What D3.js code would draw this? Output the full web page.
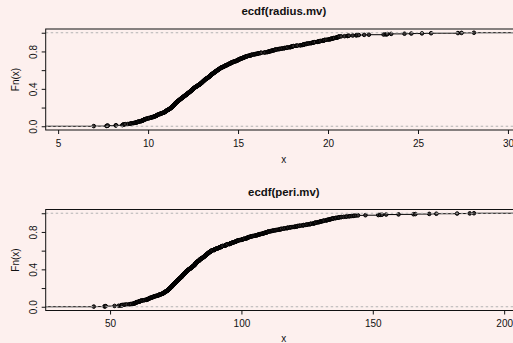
<!DOCTYPE html>
<html>
<head>
<meta charset="utf-8">
<script src="https://cdn.jsdelivr.net/npm/d3@7"></script>
<style>
  html, body { margin: 0; padding: 0; background: #fdf0ee; overflow: hidden; }
  svg { display: block; }
  text { font-family: "Liberation Sans", Arial, Helvetica, sans-serif; fill: #111; }
</style>
</head>
<body>
<svg id="chart" width="513" height="343"></svg>
<script>
// Sample values (sorted) for the two variables
const radiusValues = [
  6.98, 7.69, 7.73, 7.76,
  8.20, 8.22, 8.57, 8.60, 8.60, 8.62, 8.67, 8.73, 8.73, 8.88,
  9.00, 9.03, 9.04, 9.10, 9.17, 9.22, 9.27, 9.30, 9.33, 9.37, 9.40, 9.42, 9.44, 9.47,
  9.50, 9.56, 9.60, 9.61, 9.65, 9.67, 9.68, 9.72, 9.73, 9.74, 9.76, 9.78, 9.79, 9.80, 9.85, 9.88, 9.90, 9.90, 9.95, 9.98,
  10.03, 10.05, 10.08, 10.16, 10.17, 10.18, 10.20, 10.26, 10.29, 10.32, 10.33, 10.36, 10.38, 10.41, 10.44, 10.46, 10.47, 10.48, 10.49, 10.49,
  10.51, 10.54, 10.57, 10.57, 10.60, 10.65, 10.66, 10.67, 10.71, 10.72, 10.75, 10.77, 10.80, 10.82, 10.86, 10.88, 10.90, 10.91, 10.93, 10.94, 10.95, 10.96, 10.97, 10.98, 10.99, 10.99,
  11.02, 11.04, 11.06, 11.08, 11.08, 11.11, 11.13, 11.14, 11.15, 11.16, 11.18, 11.20, 11.20, 11.22, 11.24, 11.25, 11.26, 11.27, 11.28, 11.29, 11.30, 11.31, 11.32, 11.33, 11.34, 11.34, 11.36, 11.37, 11.38, 11.39, 11.40, 11.41, 11.42, 11.43, 11.43, 11.44, 11.45, 11.46, 11.47, 11.47, 11.48, 11.49, 11.49,
  11.50, 11.51, 11.52, 11.53, 11.54, 11.55, 11.56, 11.57, 11.57, 11.58, 11.60, 11.61, 11.62, 11.63, 11.64, 11.66, 11.67, 11.68, 11.69, 11.70, 11.71, 11.72, 11.74, 11.75, 11.76, 11.76, 11.78, 11.79, 11.80, 11.81, 11.82, 11.84, 11.85, 11.86, 11.87, 11.88, 11.89, 11.90, 11.92, 11.93, 11.94, 11.95, 11.96, 11.98, 11.99,
  12.00, 12.02, 12.03, 12.04, 12.05, 12.06, 12.07, 12.08, 12.10, 12.11, 12.13, 12.14, 12.16, 12.17, 12.18, 12.19, 12.20, 12.21, 12.22, 12.23, 12.25, 12.26, 12.27, 12.28, 12.30, 12.31, 12.32, 12.34, 12.35, 12.36, 12.37, 12.38, 12.39, 12.40, 12.42, 12.43, 12.44, 12.45, 12.46, 12.46, 12.47, 12.48, 12.49, 12.49, 12.34, 12.18,
  12.51, 12.52, 12.53, 12.54, 12.55, 12.56, 12.58, 12.58, 12.60, 12.62, 12.63, 12.65, 12.66, 12.67, 12.68, 12.70, 12.72, 12.73, 12.75, 12.76, 12.77, 12.78, 12.80, 12.81, 12.83, 12.85, 12.86, 12.87, 12.88, 12.89, 12.90, 12.91, 12.93, 12.94, 12.95, 12.96, 12.98, 12.99, 12.99,
  13.00, 13.01, 13.02, 13.03, 13.04, 13.05, 13.05, 13.07, 13.08, 13.09, 13.10, 13.11, 13.11, 13.13, 13.14, 13.15, 13.16, 13.17, 13.17, 13.19, 13.20, 13.21, 13.24, 13.25, 13.27, 13.28, 13.28, 13.30, 13.31, 13.34, 13.34, 13.36, 13.37, 13.38, 13.40, 13.40, 13.43, 13.43, 13.44, 13.45, 13.46, 13.47, 13.47, 13.48, 13.49, 13.49,
  13.50, 13.51, 13.52, 13.53, 13.54, 13.56, 13.57, 13.59, 13.61, 13.62, 13.63, 13.64, 13.65, 13.66, 13.68, 13.69, 13.70, 13.71, 13.73, 13.74, 13.75, 13.77, 13.78, 13.79, 13.80, 13.81, 13.82, 13.85, 13.86, 13.87, 13.88, 13.90, 13.90, 13.92, 13.94, 13.95, 13.96, 13.98, 13.98, 13.99,
  14.02, 14.03, 14.04, 14.05, 14.06, 14.09, 14.11, 14.14, 14.16, 14.19, 14.20, 14.22, 14.23, 14.25, 14.26, 14.27, 14.29, 14.32, 14.34, 14.36, 14.40, 14.41, 14.42, 14.44, 14.45, 14.47, 14.48, 14.48,
  14.53, 14.54, 14.58, 14.59, 14.60, 14.61, 14.62, 14.64, 14.68, 14.69, 14.71, 14.74, 14.76, 14.78, 14.81, 14.86, 14.87, 14.90, 14.92, 14.95, 14.96, 14.97, 14.99,
  15.00, 15.02, 15.04, 15.05, 15.08, 15.10, 15.12, 15.13, 15.15, 15.19, 15.22, 15.24, 15.27, 15.28, 15.30, 15.32, 15.34, 15.37, 15.38, 15.41, 15.44, 15.46, 15.49,
  15.50, 15.53, 15.60, 15.61, 15.66, 15.70, 15.71, 15.73, 15.75, 15.78, 15.85, 15.90, 15.93, 15.98,
  16.02, 16.07, 16.11, 16.14, 16.16, 16.24, 16.26, 16.30, 16.46,
  16.50, 16.60, 16.65, 16.65, 16.69, 16.71, 16.74, 16.78, 16.82, 16.84, 16.87, 16.90, 16.95, 16.98,
  17.01, 17.05, 17.06, 17.08, 17.14, 17.20, 17.27, 17.29, 17.35, 17.42, 17.46,
  17.54, 17.57, 17.60, 17.68, 17.73, 17.75, 17.85, 17.91, 17.93, 17.95, 17.99,
  18.01, 18.03, 18.05, 18.08, 18.22, 18.25, 18.31, 18.45, 18.49,
  18.57, 18.61, 18.63, 18.65, 18.66, 18.70, 18.77, 18.81, 18.82, 18.88, 18.94,
  19.02, 19.07, 19.10, 19.17, 19.18, 19.19, 19.21, 19.27, 19.40, 19.44, 19.45, 19.49,
  19.53, 19.55, 19.59, 19.69, 19.73, 19.76, 19.79, 19.80, 19.81, 19.89, 19.98,
  20.05, 20.09, 20.13, 20.16, 20.18, 20.20, 20.26, 20.29, 20.31, 20.34, 20.44, 20.47, 20.48,
  20.51, 20.55, 20.57, 20.58, 20.60, 20.64, 20.73, 20.92,
  21.09, 21.10, 21.16, 21.37, 21.56, 21.61, 21.71,
  22.01, 22.27, 23.09, 23.21, 23.27, 23.29, 23.51, 24.25, 24.63, 25.22, 25.73, 27.22, 27.42, 28.11
];

const periValues = [
  43.79, 47.92, 47.98, 48.34,
  51.71, 53.27, 54.09, 54.34, 54.42, 54.53, 54.66,
  55.27, 55.84, 56.36, 57.26, 57.75, 58.08, 58.74, 58.79, 59.20, 59.26, 59.47, 59.60, 59.75, 59.82, 59.96,
  60.11, 60.21, 60.34, 60.73, 61.05, 61.06, 61.24, 61.49, 61.50, 61.64, 61.93, 62.11, 62.50, 62.92, 63.19, 63.76, 63.78, 63.95, 64.12, 64.41, 64.55, 64.60, 64.73, 64.75, 64.95,
  65.05, 65.12, 65.31, 65.67, 65.75, 65.85, 66.09, 66.20, 66.52, 66.62, 66.72, 66.85, 67.03, 67.41, 67.49, 67.76, 68.01, 68.26, 68.38, 68.51, 68.64, 68.69, 68.79, 69.14, 69.28, 69.50, 69.65, 69.86, 69.92,
  70.15, 70.21, 70.31, 70.39, 70.41, 70.47, 70.67, 70.79, 70.87, 70.92, 70.95, 71.08, 71.24, 71.38, 71.49, 71.53, 71.73, 71.76, 71.80, 71.90, 71.94, 72.01, 72.05, 72.17, 72.23, 72.28, 72.44, 72.48,
  72.55, 72.62, 72.69, 72.76, 72.83, 72.88, 72.95, 73.00, 73.06, 73.12, 73.16, 73.28, 73.34, 73.38, 73.44, 73.53, 73.59, 73.66, 73.70, 73.72, 73.76, 73.81, 73.87, 73.93, 73.99, 74.08, 74.11, 74.20, 74.23, 74.33, 74.34, 74.45, 74.52, 74.59, 74.65, 74.68, 74.72, 74.79, 74.87, 74.96,
  75.00, 75.03, 75.09, 75.17, 75.21, 75.26, 75.38, 75.46, 75.49, 75.51, 75.54, 75.62, 75.71, 75.75, 75.89, 76.00, 76.09, 76.10, 76.14, 76.20, 76.31, 76.37, 76.38, 76.45, 76.53, 76.58, 76.66, 76.77, 76.83, 76.85, 76.95, 77.08, 77.12, 77.22, 77.23, 77.25, 77.32, 77.42, 77.45, 77.47,
  77.58, 77.61, 77.69, 77.79, 77.83, 77.87, 77.88, 77.93, 78.01, 78.04, 78.07, 78.11, 78.18, 78.27, 78.29, 78.31, 78.41, 78.54, 78.60, 78.61, 78.75, 78.78, 78.83, 78.85, 78.94, 78.99, 79.01, 79.08, 79.15, 79.19, 79.29, 79.42, 79.47, 79.55, 79.62, 79.78, 79.83, 79.85, 79.93, 79.97,
  80.08, 80.22, 80.31, 80.43, 80.45, 80.62, 80.64, 80.79, 80.88, 80.98, 81.01, 81.09, 81.15, 81.25, 81.29, 81.35, 81.37, 81.47, 81.57, 81.72, 81.78, 81.87, 81.89, 81.92, 82.01, 82.02, 82.15, 82.26, 82.33, 82.38, 82.41, 82.43, 82.46, 82.48,
  82.51, 82.53, 82.61, 82.67, 82.69, 82.71, 82.82, 82.85, 82.89, 83.05, 83.14, 83.18, 83.19, 83.32, 83.44, 83.51, 83.67, 83.74, 83.85, 83.88, 83.97, 84.06, 84.07, 84.08, 84.13, 84.18, 84.28, 84.45, 84.52, 84.55, 84.58, 84.74, 84.88, 84.95,
  85.09, 85.24, 85.26, 85.31, 85.42, 85.48, 85.63, 85.69, 85.79, 85.84, 85.89, 85.98, 86.03, 86.10, 86.18, 86.24, 86.29, 86.34, 86.49, 86.57, 86.60, 86.67, 86.78, 86.87, 86.91, 87.02, 87.16, 87.19, 87.21, 87.32, 87.36, 87.44, 87.46, 87.49,
  87.76, 87.84, 87.88, 88.05, 88.10, 88.12, 88.27, 88.37, 88.40, 88.44, 88.52, 88.64, 88.73, 88.97, 89.46, 89.59, 89.75, 89.77, 89.78, 89.79,
  90.03, 90.20, 90.30, 90.43, 90.63, 90.96, 91.12, 91.22, 91.38, 91.43, 91.56, 91.76, 91.93, 92.25, 92.33, 92.41, 92.45,
  92.51, 92.55, 92.68, 92.87, 93.63, 93.77, 93.86, 93.97, 94.15, 94.25, 94.28, 94.49, 94.57, 94.70,
  95.50, 95.54, 95.55, 95.77, 95.81, 96.03, 96.22, 96.39, 96.42, 96.71, 96.73, 97.03, 97.26, 97.45,
  97.65, 97.83, 97.84, 98.00, 98.17, 98.22, 98.37, 98.64, 98.73, 98.92, 99.17, 99.58,
  100.0, 100.2, 100.3, 100.4, 100.7, 100.8, 101.0, 101.2, 101.7, 101.9, 102.0, 102.1, 102.2, 102.4,
  102.5, 102.6, 102.8, 102.9, 103.2, 103.4, 103.7, 103.8, 104.1, 104.3, 104.7,
  105.1, 105.3, 105.7, 105.8, 106.0, 106.2, 106.4, 106.6, 106.9, 107.0, 107.1, 107.5, 107.9, 108.1, 108.3, 108.4, 108.6, 108.8, 109.0, 109.3, 109.5, 109.7, 109.8,
  110.0, 110.1, 110.2, 110.6, 111.0, 111.2, 111.6, 111.8, 112.0, 112.4, 112.8, 113.0, 113.4, 113.8, 114.2, 114.5, 114.8,
  115.0, 115.1, 115.2, 116.0, 116.1, 116.7, 117.3, 117.4, 117.5, 117.8, 118.4, 118.6, 119.0, 119.6,
  120.2, 120.3, 120.8, 121.1, 121.3, 121.4, 122.0, 122.1, 122.8, 123.4, 123.6, 123.7, 124.4, 124.8, 124.9,
  125.5, 125.9, 126.2, 126.3, 126.5, 127.2, 127.5, 127.7, 127.9, 128.0, 128.1, 128.3, 128.9, 129.1, 129.5, 129.7, 129.9,
  130.0, 130.4, 130.5, 130.7, 131.1, 131.2, 131.5, 132.1, 132.4, 132.5, 132.7, 132.9, 133.2, 133.6, 133.7, 133.8, 134.2, 134.4, 134.7, 134.8,
  135.1, 135.7, 135.9, 136.2, 136.8, 137.0, 137.2, 137.8, 138.1, 138.9, 139.7,
  140.1, 140.9, 141.3, 142.0, 142.7, 143.0, 143.7, 144.4,
  147.2, 152.1, 152.8, 153.5, 155.1, 159.8, 165.5, 166.2, 171.5, 174.2, 182.1, 186.9, 188.5
];

const panelTitles = ["ecdf(radius.mv)", "ecdf(peri.mv)"];
const radiusTicks = [5, 10, 15, 20, 25, 30];
const periTicks = [50, 100, 150, 200];
const probTicks = [0, 0.2, 0.4, 0.6, 0.8, 1];
const probTickLabels = ["0.0", "", "0.4", "", "0.8", ""];
const xLabel = "x";
const yLabel = "Fn(x)";

const svg = d3.select("#chart");
const svgHeight = 343;
const plotLeft = 45.7, plotRight = 522, plotHeight = 101;

function drawPanel(values, xTicks, title, top, id) {
  const sorted = d3.sort(values);
  const n = sorted.length;
  const knots = Array.from(new Set(sorted));
  const Fn = v => d3.bisectRight(sorted, v) / n;

  // step-function x range, widened like a stepfun plot, then 4% axis padding
  const rx = d3.extent(knots);
  const dr = Math.max(0.08 * (rx[1] - rx[0]), d3.median(d3.pairs(knots, (a, b) => b - a)));
  const lim = [rx[0] - dr, rx[1] + dr];
  const pad = 0.04 * (lim[1] - lim[0]);
  const x = d3.scaleLinear().domain([lim[0] - pad, lim[1] + pad]).range([plotLeft, plotRight]);
  const y = d3.scaleLinear().domain([-0.04, 1.04]).range([top + plotHeight, top]);

  const g = svg.append("g");

  svg.append("clipPath").attr("id", "clip" + id)
    .append("rect").attr("x", plotLeft).attr("y", top)
    .attr("width", plotRight - plotLeft).attr("height", plotHeight);

  const plot = g.append("g").attr("clip-path", `url(#clip${id})`);

  // horizontal steps
  const steps = d3.range(knots.length + 1).map(i => ({
    x0: i === 0 ? lim[0] - dr : knots[i - 1],
    x1: i === knots.length ? lim[1] + dr : knots[i],
    level: i === 0 ? 0 : Fn(knots[i - 1])
  }));
  plot.selectAll("line.step").data(steps).join("line")
    .attr("class", "step")
    .attr("x1", d => x(d.x0)).attr("x2", d => x(d.x1))
    .attr("y1", d => y(d.level)).attr("y2", d => y(d.level))
    .attr("stroke", "#000").attr("stroke-width", 1);

  // jump points
  plot.selectAll("circle").data(knots).join("circle")
    .attr("cx", d => x(d)).attr("cy", d => y(Fn(d)))
    .attr("r", 1.8)
    .attr("fill", "#3a3434").attr("stroke", "#000").attr("stroke-width", 1);

  // reference lines at 0 and 1
  plot.selectAll("line.ref").data([0, 1]).join("line")
    .attr("class", "ref")
    .attr("x1", plotLeft).attr("x2", plotRight)
    .attr("y1", d => y(d)).attr("y2", d => y(d))
    .attr("stroke", "#b3b3b3").attr("stroke-width", 1)
    .attr("stroke-dasharray", "2.5,2.5");

  // frame
  g.append("rect").attr("x", plotLeft).attr("y", top)
    .attr("width", plotRight - plotLeft).attr("height", plotHeight)
    .attr("fill", "none").attr("stroke", "#111").attr("stroke-width", 1);

  // x axis
  const xAxis = g.append("g").attr("transform", `translate(0,${top + plotHeight})`)
    .style("color", "#111")
    .call(d3.axisBottom(x).tickValues(xTicks).tickFormat(d3.format("d")).tickSize(4).tickSizeOuter(0));
  xAxis.select(".domain").remove();
  xAxis.selectAll("text").attr("y", 16.7).attr("dy", null).attr("font-size", 10);

  // y axis
  const yAxis = g.append("g").attr("transform", `translate(${plotLeft},0)`)
    .style("color", "#111")
    .call(d3.axisLeft(y).tickValues(probTicks).tickFormat((d, i) => probTickLabels[i]).tickSize(4).tickSizeOuter(0));
  yAxis.select(".domain").remove();
  yAxis.selectAll("text").attr("x", null).attr("dy", null)
    .attr("text-anchor", "middle").attr("font-size", 10)
    .attr("transform", "translate(-9,0) rotate(-90)");

  // labels
  const cx = (plotLeft + plotRight) / 2;
  g.append("text").attr("x", cx).attr("y", top - 13.8)
    .attr("text-anchor", "middle").attr("font-size", 11.4).attr("font-weight", "bold")
    .text(title);
  g.append("text").attr("x", cx).attr("y", Math.min(top + 134.3, svgHeight - 1.5))
    .attr("text-anchor", "middle").attr("font-size", 10).text(xLabel);
  g.append("text").attr("transform", `translate(18.8,${top + plotHeight / 2}) rotate(-90)`)
    .attr("text-anchor", "middle").attr("font-size", 10).text(yLabel);
}

drawPanel(radiusValues, radiusTicks, panelTitles[0], 29, 1);
drawPanel(periValues, periTicks, panelTitles[1], 209.5, 2);
</script>
</body>
</html>
